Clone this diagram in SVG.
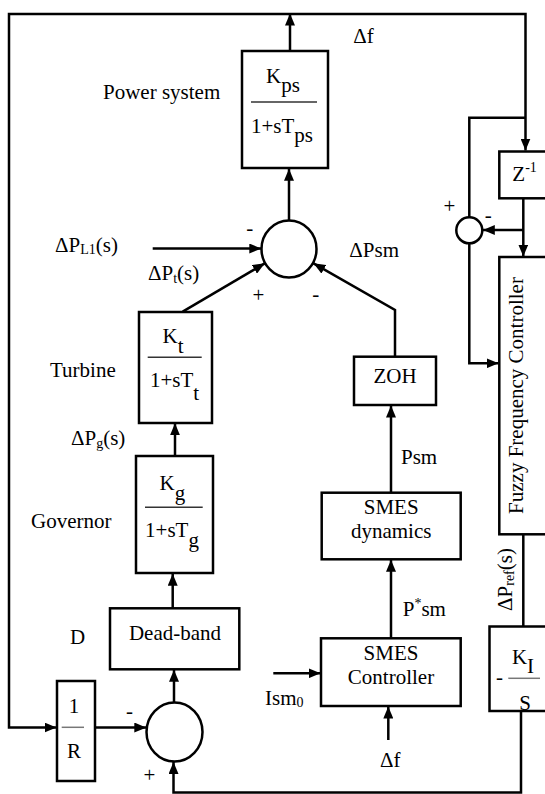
<svg xmlns="http://www.w3.org/2000/svg" width="545" height="794" viewBox="0 0 545 794">
<style>
.b{fill:#fff;stroke:#000;stroke-width:2.5}
.c{fill:none;stroke:#000;stroke-width:2.5}
.a{marker-end:url(#ah)}
.fl{stroke:#333;stroke-width:1.5}
.fg{stroke:#777;stroke-width:1.5}
.m{text-anchor:middle}
.s{font-size:14px}
</style>
<defs>
<marker id="ah" markerWidth="12" markerHeight="10" refX="12" refY="5" orient="auto" markerUnits="userSpaceOnUse"><path d="M0,0 L12,5 L0,10 z" fill="#000"/></marker>
</defs>
<g font-family="Liberation Serif, Tinos, DejaVu Serif, serif" font-size="21" fill="#000">
<g id="connectors">
<path class="c a" d="M290,51 V13.5"/>
<path class="c a" d="M290,14 H9 V727.5 H56.5"/>
<path class="c a" d="M290,14 H525.5 V150.5"/>
<path class="c" d="M525.5,117.7 H469.3 V217.3"/>
<path class="c a" d="M523.3,198 V256.5"/>
<path class="c a" d="M523.3,230 H482.8"/>
<path class="c a" d="M469.3,243.3 V363.3 H498.5"/>
<path class="c" d="M523.3,534.3 V626.5"/>
<path class="c a" d="M521,711 V792.5 H173.5 V762"/>
<path class="c a" d="M95,727.5 H146.3"/>
<path class="c a" d="M174,702.5 V669.8"/>
<path class="c a" d="M172.7,608.3 V573.8"/>
<path class="c a" d="M175,456 V423.3"/>
<path class="c a" d="M182.7,311.7 L264.8,263.3"/>
<path class="c a" d="M152.7,248.5 H261.3"/>
<path class="c a" d="M289,220.5 V168.8"/>
<path class="c a" d="M395,356.7 V310 L313.5,263.3"/>
<path class="c a" d="M391,492.7 V405.5"/>
<path class="c a" d="M391,638.3 V559.8"/>
<path class="c a" d="M273.3,673.3 H320.5"/>
<path class="c a" d="M388.3,740 V706.5"/>
</g>
<g id="power-system">
<rect class="b" x="242" y="51" width="86" height="117"/>
<text class="m" x="283" y="83">K<tspan dy="9">ps</tspan></text>
<line class="fl" x1="251" y1="102" x2="317" y2="102"/>
<text class="m" x="282" y="133">1+sT<tspan dy="9">ps</tspan></text>
<text x="103" y="99">Power system</text>
</g>
<g id="sum1">
<ellipse class="b" cx="289" cy="249" rx="27.5" ry="28.5"/>
<text x="246.3" y="234.7">-</text>
<text x="252.4" y="301.5">+</text>
<text x="312.2" y="301.4">-</text>
</g>
<g id="turbine">
<rect class="b" x="139" y="312" width="73" height="111"/>
<text class="m" x="173" y="343">K<tspan dy="10">t</tspan></text>
<line class="fl" x1="147.7" y1="357.3" x2="201.7" y2="357.3"/>
<text class="m" x="174.5" y="387">1+sT<tspan dy="13">t</tspan></text>
<text x="50" y="377">Turbine</text>
</g>
<g id="governor">
<rect class="b" x="136" y="456" width="77" height="117"/>
<text class="m" x="172.3" y="490">K<tspan dy="10">g</tspan></text>
<line class="fl" x1="145" y1="507.3" x2="202.7" y2="507.3"/>
<text class="m" x="172" y="537">1+sT<tspan dy="9.5">g</tspan></text>
<text x="31" y="528">Governor</text>
</g>
<g id="dead-band">
<rect class="b" x="110" y="608.3" width="129.3" height="61"/>
<text class="m" x="175" y="640">Dead-band</text>
<text x="70" y="644">D</text>
</g>
<g id="sum2">
<ellipse class="b" cx="174.5" cy="732" rx="28" ry="29.5"/>
<text x="126" y="718">-</text>
<text x="143.6" y="782">+</text>
</g>
<g id="one-over-r">
<rect class="b" x="57" y="681" width="38" height="100"/>
<text class="m" x="74" y="713">1</text>
<line class="fg" x1="61.7" y1="727.3" x2="84" y2="727.3"/>
<text class="m" x="74" y="758">R</text>
</g>
<g id="zoh">
<rect class="b" x="354" y="356.7" width="82" height="48.3"/>
<text class="m" x="395" y="383">ZOH</text>
</g>
<g id="smes-dynamics">
<rect class="b" x="321.7" y="492.7" width="139" height="66.6"/>
<text class="m" x="391.2" y="514">SMES</text>
<text class="m" x="391.2" y="537.7">dynamics</text>
</g>
<g id="smes-controller">
<rect class="b" x="321" y="638.3" width="139.7" height="67.7"/>
<text class="m" x="391" y="660">SMES</text>
<text class="m" x="391" y="684">Controller</text>
</g>
<g id="zinv">
<rect class="b" x="499.3" y="151.5" width="48" height="46.8"/>
<text x="512.3" y="181">Z<tspan class="s" dy="-9">-1</tspan></text>
</g>
<g id="sum3">
<circle class="b" cx="469.3" cy="230.3" r="13"/>
<text x="443.6" y="212.5">+</text>
<text x="484.8" y="222">-</text>
</g>
<g id="fuzzy">
<rect class="b" x="499.3" y="257" width="48" height="277.3"/>
<text class="m" transform="translate(523,395.5) rotate(-90)">Fuzzy Frequency Controller</text>
</g>
<g id="ki">
<rect class="b" x="489.5" y="626.5" width="58" height="84.5"/>
<text class="m" x="523" y="664">K<tspan dy="9">I</tspan></text>
<line class="fg" x1="508.3" y1="678.3" x2="540" y2="678.3"/>
<text x="496" y="684">-</text>
<text class="m" x="525" y="710">S</text>
</g>
<g id="labels">
<text x="353.3" y="43">Δf</text>
<text x="55" y="252">ΔP<tspan class="s" dy="2">L1</tspan><tspan dy="-2">(s)</tspan></text>
<text x="148" y="280">ΔP<tspan class="s" dy="3">t</tspan><tspan dy="-3">(s)</tspan></text>
<text x="71" y="445">ΔP<tspan class="s" dy="3">g</tspan><tspan dy="-3">(s)</tspan></text>
<text x="349.3" y="257">ΔPsm</text>
<text x="401" y="464">Psm</text>
<text x="402.7" y="616">P<tspan class="s" dy="-8">*</tspan><tspan dy="8">sm</tspan></text>
<text x="265" y="705">Ism<tspan class="s" dy="2">0</tspan></text>
<text x="380" y="767">Δf</text>
<text class="m" transform="translate(512,579.5) rotate(-90)">ΔP<tspan class="s" dy="2">ref</tspan><tspan dy="-2">(s)</tspan></text>
</g>
</g>
</svg>
